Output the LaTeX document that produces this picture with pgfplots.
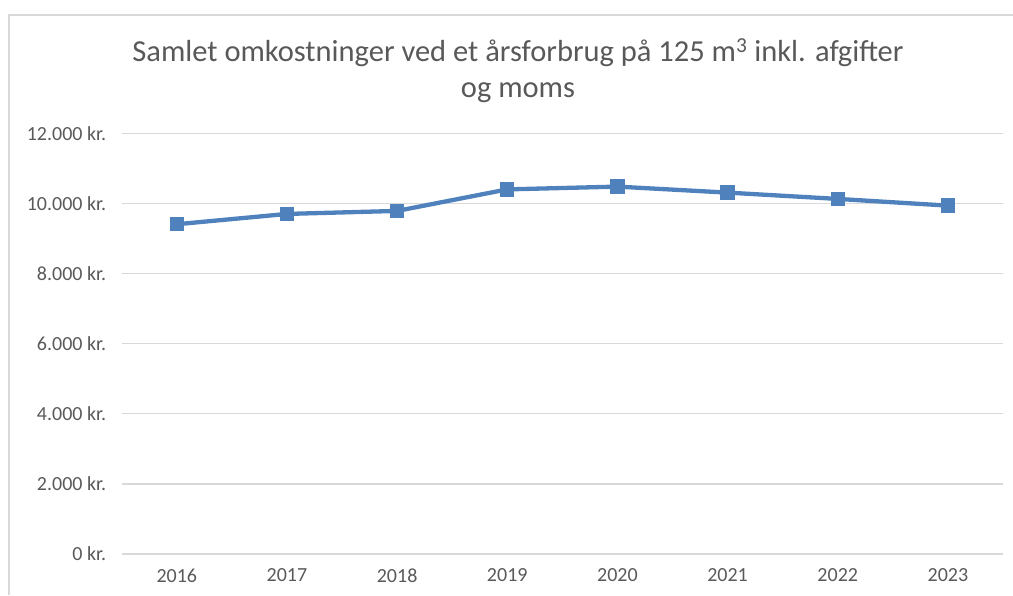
\documentclass[border=0pt]{standalone}
\usepackage{pgfplots}
\pgfplotsset{compat=1.18}
\usepackage{fontspec}
\setmainfont{Carlito}
\definecolor{ser}{HTML}{4F81BD}
\definecolor{gridc}{HTML}{D9D9D9}
\definecolor{txt}{HTML}{595959}
\begin{document}
\begin{tikzpicture}
\path[use as bounding box] (0pt,0pt) rectangle (1013pt,595pt);
\draw[gridc,line width=1.5pt] (9pt,0pt) -- (9pt,580pt) -- (1013pt,580pt);
\node[txt,anchor=base,font=\fontsize{30.5}{36}\selectfont] at (518pt,533pt) {Samlet omkostninger ved et årsforbrug på 125 m\textsuperscript{3} inkl. afgifter};
\node[txt,anchor=base,font=\fontsize{30.5}{36}\selectfont] at (518pt,497pt) {og moms};
\begin{axis}[
  at={(121.7pt,41pt)}, anchor=south west,
  scale only axis, width=881.3pt, height=420.7pt,
  xmin=-0.5, xmax=7.5, ymin=0, ymax=12000,
  scaled y ticks=false,
  xtick={0,...,7}, xticklabels={2016,2017,2018,2019,2020,2021,2022,2023},
  ytick={0,2000,...,12000},
  yticklabels={0 kr.,2.000 kr.,4.000 kr.,6.000 kr.,8.000 kr.,10.000 kr.,12.000 kr.},
  axis line style={draw=none},
  tick style={draw=none},
  ymajorgrids, grid style={gridc,line width=1.3pt},
  ticklabel style={txt,font=\fontsize{20}{24}\selectfont},
  yticklabel style={xshift=-12pt},
  xticklabel style={yshift=-11pt},
  clip=false,
]
\addplot[ser,line width=4.3pt,mark=square*,mark size=5pt,mark options={solid}] coordinates {
(0,9406) (1,9700) (2,9786) (3,10400) (4,10479) (5,10308) (6,10128) (7,9937)};
\end{axis}
\end{tikzpicture}
\end{document}
